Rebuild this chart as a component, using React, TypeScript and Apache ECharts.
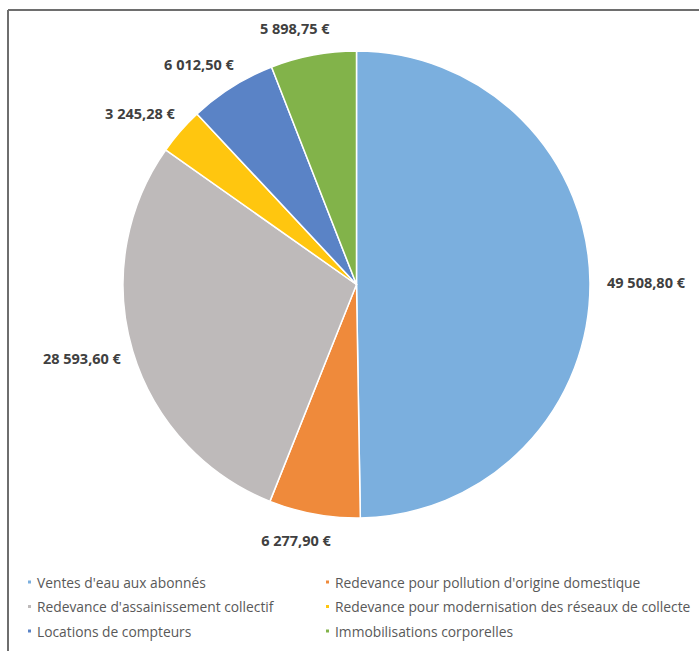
import React, { useEffect, useRef } from "react";
import * as echarts from "echarts";

const categories = [
  "Ventes d'eau aux abonnés",
  "Redevance pour pollution d'origine domestique",
  "Redevance d'assainissement collectif",
  "Redevance pour modernisation des réseaux de collecte",
  "Locations de compteurs",
  "Immobilisations corporelles",
];
const values = [49508.8, 6277.9, 28593.6, 3245.28, 6012.5, 5898.75];
const colors = ["#7BAFDE", "#EF8A3B", "#BEBABA", "#FFC60F", "#5A83C6", "#82B34A"];

const CX = 356.5;
const CY = 284.5;
const R = 233.5;

function formatEuro(n: number): string {
  const [intPart, dec] = n.toFixed(2).split(".");
  const withSpaces = intPart.replace(/\B(?=(\d{3})+(?!\d))/g, " ");
  return `${withSpaces},${dec} €`;
}

export default function App() {
  const ref = useRef<HTMLDivElement>(null);
  useEffect(() => {
    if (!ref.current) return;
    const chart = echarts.init(ref.current, undefined, { renderer: "svg" });
    const total = values.reduce((a, b) => a + b, 0);
    const legendCommon = {
      orient: "vertical" as const,
      top: 570,
      icon: "rect",
      itemWidth: 5,
      itemHeight: 5,
      itemGap: 10.5,
      selectedMode: false,
      textStyle: {
        fontFamily: "Open Sans",
        fontSize: 13.8,
        color: "#595959",
        lineHeight: 14,
      },
    };
    chart.setOption({
      animation: false,
      backgroundColor: "#ffffff",
      color: colors,
      graphic: [
        { type: "line", shape: { x1: 8, y1: 10, x2: 699, y2: 10 }, style: { stroke: "#6e6e6e", lineWidth: 2 } },
        { type: "line", shape: { x1: 8, y1: 10, x2: 8, y2: 651 }, style: { stroke: "#6e6e6e", lineWidth: 2 } },
      ],
      legend: [
        { ...legendCommon, left: 21, data: [categories[0], categories[2], categories[4]] },
        { ...legendCommon, left: 319, data: [categories[1], categories[3], categories[5]] },
      ],
      series: [
        {
          type: "pie",
          center: [CX, CY],
          radius: R,
          startAngle: 90,
          clockwise: true,
          avoidLabelOverlap: false,
          emphasis: { disabled: true },
          itemStyle: { borderColor: "#ffffff", borderWidth: 1.5 },
          label: {
            show: true,
            position: "outside",
            formatter: (p: any) => formatEuro(p.value),
            fontFamily: "Open Sans",
            fontWeight: "bold",
            fontSize: 14.5,
            color: "#404040",
          },
          labelLine: { show: false },
          labelLayout: (params: any) => {
            const i = params.dataIndex;
            let prev = 0;
            for (let k = 0; k < i; k++) prev += values[k];
            const midDeg = 90 - ((prev + values[i] / 2) / total) * 360;
            const a = (midDeg * Math.PI) / 180;
            const dx = Math.cos(a);
            const dy = -Math.sin(a);
            const ex = CX + dx * R;
            const ey = CY + dy * R;
            const w = params.labelRect.width;
            const h = params.labelRect.height;
            const x = ex + dx * 15 + Math.sign(dx) * Math.pow(Math.abs(dx), 0.4) * (w / 2) + 2;
            const y = ey + dy * (19 + h / 2);
            return { x, y, align: "center", verticalAlign: "middle" };
          },
          data: categories.map((name, i) => ({ name, value: values[i] })),
        },
      ],
    });
    return () => chart.dispose();
  }, []);
  return (
    <div
      ref={ref}
      style={{ position: "absolute", left: 0, top: 0, width: 699, height: 651 }}
    />
  );
}
